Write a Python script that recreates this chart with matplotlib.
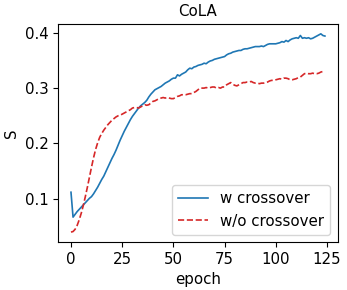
import numpy as np
import matplotlib
matplotlib.use("Agg")
import matplotlib.pyplot as plt

# S per epoch
w_crossover = [
    0.112, 0.067, 0.072, 0.077, 0.081, 0.085, 0.089, 0.093, 0.097, 0.101,
    0.104, 0.109, 0.115, 0.121, 0.128, 0.135, 0.141, 0.149, 0.157, 0.165,
    0.173, 0.180, 0.188, 0.197, 0.206, 0.214, 0.222, 0.229, 0.236, 0.243,
    0.249, 0.254, 0.259, 0.264, 0.268, 0.271, 0.274, 0.278, 0.284, 0.289,
    0.293, 0.297, 0.299, 0.301, 0.303, 0.306, 0.309, 0.311, 0.313, 0.316,
    0.318, 0.318, 0.324, 0.322, 0.325, 0.327, 0.329, 0.333, 0.336, 0.335,
    0.338, 0.339, 0.341, 0.342, 0.343, 0.345, 0.344, 0.347, 0.349, 0.350,
    0.352, 0.353, 0.354, 0.355, 0.356, 0.357, 0.360, 0.362, 0.363, 0.365,
    0.366, 0.367, 0.368, 0.368, 0.370, 0.371, 0.371, 0.372, 0.373, 0.374,
    0.375, 0.375, 0.375, 0.376, 0.375, 0.377, 0.379, 0.380, 0.380, 0.380,
    0.380, 0.381, 0.382, 0.384, 0.383, 0.386, 0.384, 0.387, 0.389, 0.390,
    0.391, 0.390, 0.395, 0.390, 0.391, 0.390, 0.391, 0.389, 0.390, 0.392,
    0.394, 0.396, 0.398, 0.395, 0.394,
]
wo_crossover = [
    0.040, 0.041, 0.045, 0.052, 0.062, 0.074, 0.088, 0.104, 0.121, 0.139,
    0.157, 0.174, 0.189, 0.201, 0.211, 0.218, 0.224, 0.229, 0.234, 0.238,
    0.242, 0.245, 0.248, 0.250, 0.251, 0.253, 0.255, 0.257, 0.259, 0.261,
    0.264, 0.265, 0.265, 0.264, 0.266, 0.268, 0.270, 0.269, 0.270, 0.273,
    0.276, 0.277, 0.279, 0.281, 0.282, 0.283, 0.282, 0.283, 0.282, 0.281,
    0.281, 0.283, 0.285, 0.286, 0.288, 0.288, 0.288, 0.289, 0.290, 0.290,
    0.292, 0.294, 0.297, 0.300, 0.300, 0.300, 0.301, 0.300, 0.301, 0.302,
    0.302, 0.300, 0.301, 0.300, 0.302, 0.302, 0.306, 0.308, 0.310, 0.307,
    0.305, 0.304, 0.306, 0.308, 0.310, 0.310, 0.311, 0.311, 0.312, 0.310,
    0.309, 0.309, 0.308, 0.309, 0.309, 0.310, 0.311, 0.313, 0.314, 0.314,
    0.315, 0.316, 0.317, 0.316, 0.318, 0.318, 0.317, 0.315, 0.315, 0.316,
    0.317, 0.319, 0.320, 0.323, 0.326, 0.327, 0.326, 0.326, 0.327, 0.326,
    0.326, 0.327, 0.329, 0.330, 0.329,
]
epochs = np.arange(len(w_crossover))

fs = 10.8
fig = plt.figure(figsize=(3.47, 2.90), dpi=100)
ax = fig.add_axes([0.168, 0.1655, 0.805, 0.752])

ax.plot(epochs, w_crossover, color="tab:blue", lw=1.2, label="w crossover")
ax.plot(epochs, wo_crossover, color="tab:red", lw=1.2, ls="--", label="w/o crossover")

ax.set_title("CoLA", fontsize=fs)
ax.set_xlabel("epoch", fontsize=fs)
ax.set_ylabel("S", fontsize=fs)
ax.set_xticks([0, 25, 50, 75, 100, 125])
ax.set_yticks([0.1, 0.2, 0.3, 0.4])
ax.tick_params(labelsize=fs)
ax.legend(loc="lower right", fontsize=fs)

fig.savefig("out.png", dpi=100)
plt.close(fig)
